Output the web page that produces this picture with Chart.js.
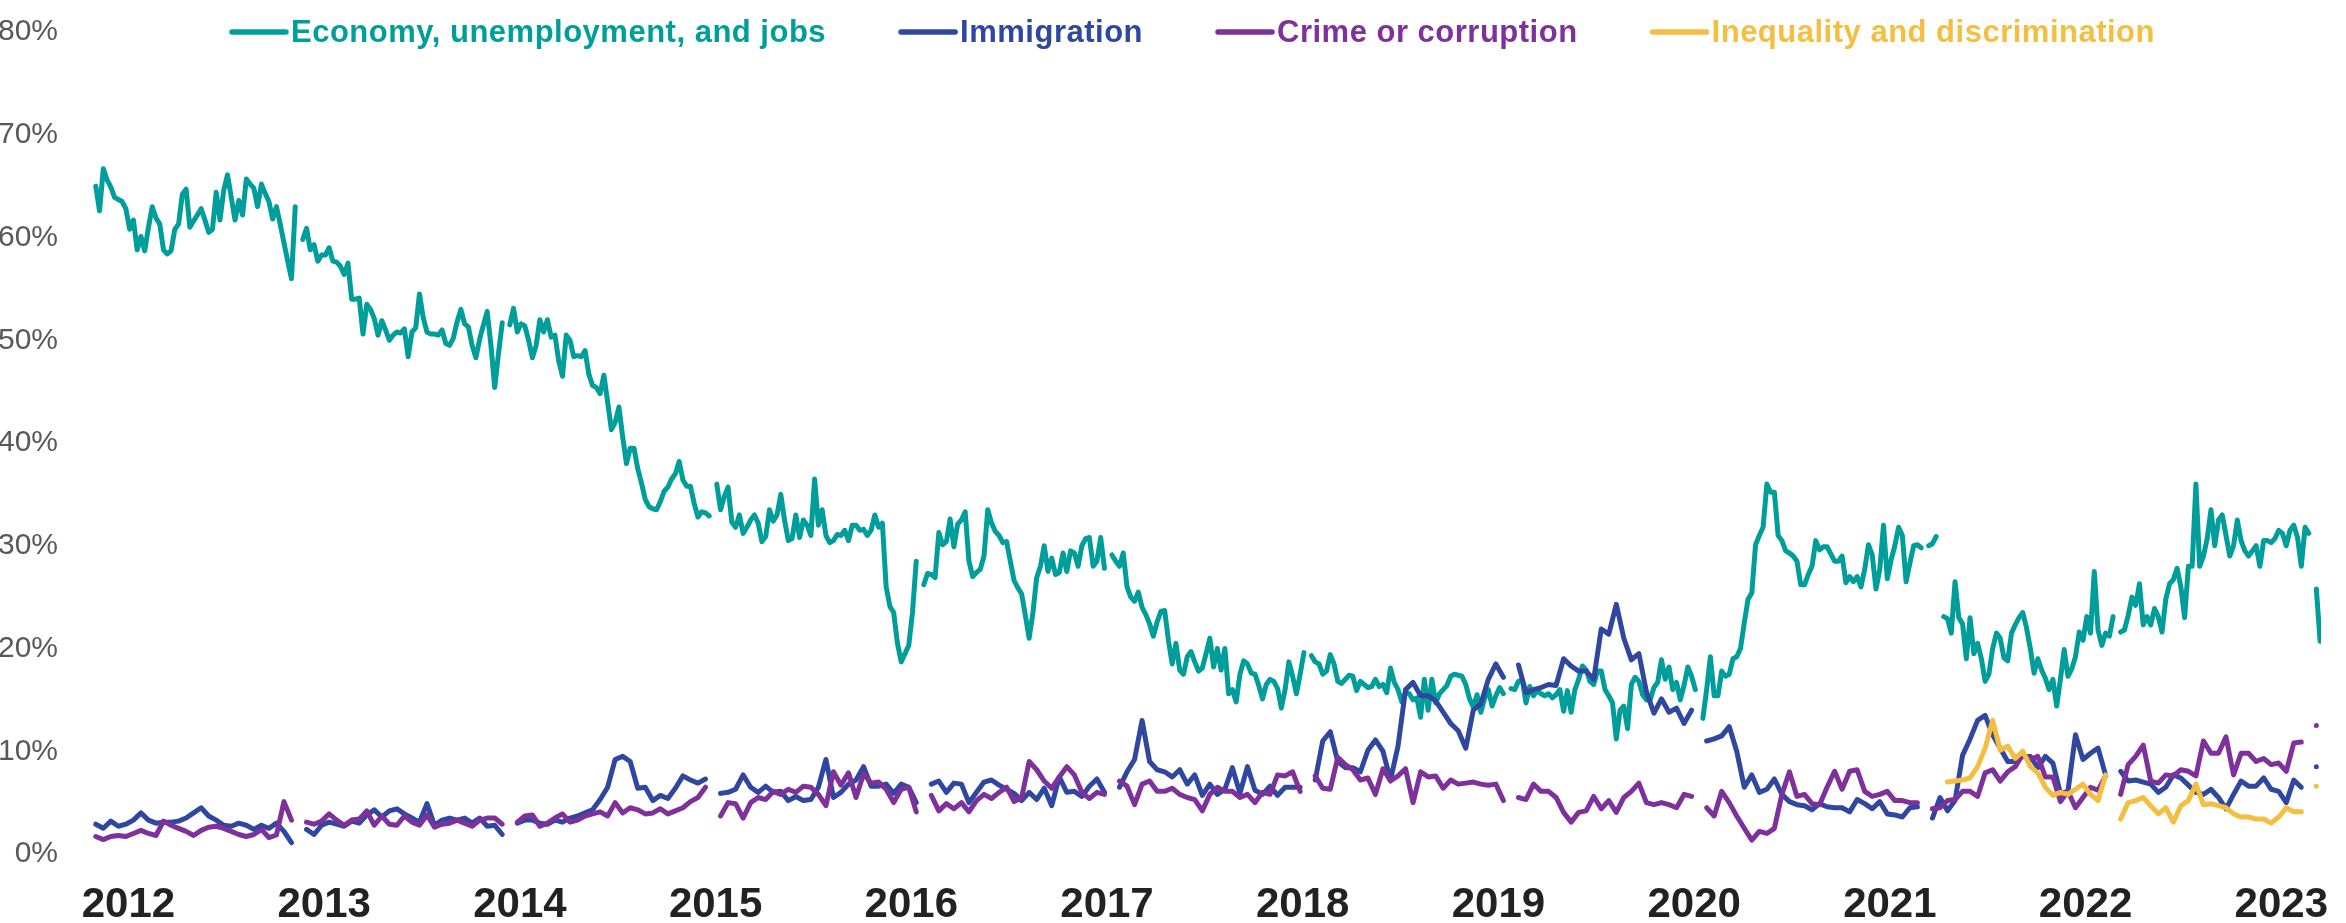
<!doctype html>
<html>
<head>
<meta charset="utf-8">
<title>Most important issues, weekly share</title>
<script src="https://cdn.jsdelivr.net/npm/chart.js@4.4.1/dist/chart.umd.min.js"></script>
<style>
	html, body {
		margin: 0;
		padding: 0;
		background: #fff;
	}
	canvas {
		display: block;
	}
</style>
</head>
<body>
<canvas id="chart" width="2346" height="923"></canvas>
<script>
// first plotted week, as a decimal year (late Oct 2011)
var firstWeek = 2011.833;
var yearTicks = [2012, 2013, 2014, 2015, 2016, 2017, 2018, 2019, 2020, 2021, 2022, 2023];

var seriesNames = ['Economy, unemployment, and jobs', 'Immigration', 'Crime or corruption', 'Inequality and discrimination'];
var seriesColors = ['#009e9a', '#2f479e', '#7e309b', '#f4be41'];

// weekly, % of respondents (null = no reading that week)
var econ = [
	65.0, 62.6, 66.7, 65.6, 64.9, 63.9, 63.7, 63.5, 62.8, 60.8, 61.7, 58.8, 60.1, 58.7, 61.0, 63.0, 61.9, 61.3, 58.8, 58.4,
	58.7, 60.8, 61.3, 64.2, 64.7, 61.0, 61.6, 62.2, 62.8, 61.7, 60.5, 60.8, 64.4, 61.7, 64.6, 66.1, 63.9, 61.7, 63.6, 62.2,
	65.7, 65.2, 64.8, 63.0, 65.2, 64.3, 63.5, 61.8, 63.0, 61.3, 59.5, 57.7, 56.0, 63.0, null,
	59.8, 60.9, 58.8, 59.3, 57.7, 58.3, 58.3, 59.0, 57.7, 57.6, 57.2, 56.4, 57.5, 54.0, 54.0, 54.1, 50.6, 53.5, 53.0, 52.1,
	50.5, 51.9, 51.0, 50.0, 50.5, 50.8, 50.7, 51.1, 48.4,
	50.8, 51.2, 54.5, 52.2, 50.8, 50.6, 50.6, 50.5, 51.0, 49.7, 49.5, 50.2, 51.8, 53.0, 51.6, 51.3, 49.5, 48.3, 50.1, 51.5,
	52.8, 49.5, 45.4, 48.7, 51.7, null,
	51.5, 53.1, 50.8, 51.6, 51.4, 50.0, 48.3, 49.5, 52.0, 50.8, 52.0, 50.3, 50.5, 48.0, 46.5, 50.5, 50.0, 48.4, 48.5, 48.4,
	49.0, 46.7, 45.6, 45.4, 44.8, 46.6, 44.0, 41.3, 42.0, 43.5, 40.6, 38.0, 39.5, 39.5, 37.5, 36.1, 34.5, 33.8, 33.6, 33.5,
	34.3, 35.3, 35.7, 36.5, 37.0, 38.2, 36.4, 35.8, 35.8, 34.1, 32.8, 33.3, 33.2, 32.9, null,
	36.0, 33.5, 34.8, 35.7, 32.3, 31.8, 33.0, 31.2, 31.8, 32.5, 33.0, 32.2, 30.4, 30.9, 33.5, 32.4, 33.0, 35.0, 32.5, 30.5,
	30.7, 33.0, 30.8, 32.5, 32.0, 31.0, 36.5, 32.0, 33.5, 31.0, 30.3, 30.5, 31.1, 31.0, 31.5, 30.5, 32.0, 32.0, 31.5, 31.6,
	31.0, 31.5, 33.0, 31.8, 32.2, 26.0, 24.1, 23.5, 20.5, 18.7, 19.5, 20.3, 23.5, 28.5, null,
	26.2, 27.3, 27.2, 26.9, 31.3, 30.1, 30.4, 32.6, 29.9, 32.1, 32.5, 33.3, 28.5, 27.0, 27.4, 27.7, 29.0, 33.5, 32.2, 31.4,
	31.0, 30.3, 30.4, 28.5, 26.6, 25.9, 25.3, 23.2, 21.0, 23.5, 26.9, 28.0, 30.0, 27.5, 28.8, 27.2, 27.4, 29.3, 27.5, 29.5,
	29.3, 28.0, 30.0, 30.7, 30.8, 28.0, 28.5, 30.8, 27.8, null,
	29.1, 28.5, 28.0, 29.3, 26.0, 25.0, 24.6, 25.5, 24.0, 23.3, 22.4, 21.2, 22.6, 23.6, 23.7, 20.8, 18.5, 20.5, 17.9, 17.5,
	19.2, 19.7, 18.7, 17.8, 18.1, 19.5, 21.0, 18.2, 20.0, 17.9, 20.0, 15.6, 16.0, 14.8, 17.5, 18.8, 18.5, 17.6, 17.5, 16.4,
	15.1, 16.5, 17.0, 16.8, 16.1, 14.2, 16.0, 18.7, 17.3, 15.6, 17.5, 19.6, null,
	19.3, 18.7, 18.5, 17.5, 17.8, 19.4, 18.5, 16.8, 16.6, 17.0, 17.4, 17.3, 15.9, 16.8, 16.5, 16.2, 16.3, 17.0, 16.3, 16.5,
	15.7, 18.1, 16.7, 16.0, 14.8, 15.7, 15.6, 15.0, 15.2, 13.3, 17.0, 14.0, 17.0, 14.7, 15.6, 16.0, 16.4, 17.3, 17.5, 17.4,
	17.3, 16.5, 15.1, 14.3, 15.5, 13.8, 15.1, 16.0, 14.4, 15.4, 16.2, 15.6, null,
	16.1, 16.0, 16.8, 17.0, 14.7, 16.3, 15.4, 15.9, 15.6, 15.4, 15.6, 15.2, 15.5, 16.0, 13.9, 15.9, 13.8, 16.0, 17.0, 18.3,
	17.9, 16.8, 16.5, 17.8, 17.8, 16.0, 15.4, 14.7, 11.2, 14.0, 14.4, 12.2, 16.5, 17.2, 16.8, 15.5, 15.0, 15.0, 16.2, 16.7,
	18.9, 17.0, 18.2, 16.0, 16.7, 15.0, 16.4, 18.2, 17.3, 16.0, null,
	13.2, 16.0, 19.2, 15.4, 15.4, 17.8, 17.3, 17.5, 19.0, 19.2, 20.0, 22.5, 24.8, 25.4, 30.1, 31.0, 31.8, 36.0, 35.2, 35.2,
	31.0, 30.5, 29.5, 29.3, 29.0, 28.5, 26.2, 26.2, 27.2, 28.0, 30.5, 29.6, 29.9, 29.9, 29.2, 28.5, 28.5, 29.0, 26.4, 27.0,
	26.5, 27.0, 26.0, 27.7, 30.1, 29.1, 25.8, 27.7, 32.0, 26.8, 28.6, 30.0, 31.8, 31.0, 26.5, 28.3, 30.0, 30.1, 29.8, null,
	30.0, 30.2, 30.9, null,
	23.1, 22.9, 21.5, 26.5, 23.0, 22.4, 19.0, 23.0, 19.5, 20.5, 19.0, 16.8, 17.5, 20.0, 21.5, 21.0, 19.1, 18.8, 21.5, 22.3,
	23.0, 23.5, 22.0, 20.0, 17.6, 19.0, 17.9, 17.1, 16.0, 17.0, 14.4, 17.0, 19.9, 17.3, 18.0, 19.2, 21.6, 20.8, 23.1, 21.5,
	27.5, 21.8, 20.3, 21.5, 21.2, 23.1, null,
	21.6, 21.8, 23.2, 25.0, 24.2, 26.3, 22.3, 23.1, 22.3, 23.9, 23.1, 21.6, 24.8, 26.3, 26.7, 27.8, 26.0, 23.0, 28.0, 28.0,
	36.0, 28.0, 29.0, 30.7, 33.5, 30.0, 32.5, 33.0, 31.0, 29.0, 30.0, 32.5, 30.5, 29.5, 29.0, 29.5, 30.0, 28.0, 30.5, 30.5,
	30.3, 30.7, 31.5, 31.2, 30.0, 31.5, 32.0, 30.8, 28.0, 31.8, 31.2, null,
	25.8, 20.7
];

// every second week from firstWeek
var immig = [
	2.9, 2.5, 3.2, 2.7, 2.9, 3.3, 4.0, 3.3, 3.0, 3.1, 3.1, 3.2, 3.5, 4.0, 4.5, 3.7, 3.3, 2.8, 2.7, 3.0,
	2.8, 2.4, 2.8, 2.5, 3.0, 2.2, 1.1, null, 2.4, 1.9, 2.8, 3.1, 2.9, 2.7, 3.2, 3.0, 3.8, 4.3, 3.6, 4.2,
	4.4, 3.9, 3.5, 3.1, 4.9, 2.8, 3.3, 3.5, 3.3, 3.5, 3.0, 3.5, 2.7, 2.8, 1.9, null, 3.0, 3.3, 3.3, 3.0,
	2.9, 3.3, 3.1, 3.5, 3.7, 4.0, 4.3, 5.3, 6.5, 9.2, 9.5, 9.0, 6.4, 6.5, 5.2, 5.7, 5.4, 6.4, 7.6, 7.2,
	6.9, 7.3, null, 5.9, 6.0, 6.3, 7.7, 6.5, 6.0, 6.6, 6.0, 6.1, 5.2, 5.6, 5.2, 5.3, 6.5, 9.2, 5.5, 6.0,
	6.8, 7.2, 8.5, 6.6, 6.6, 6.8, 5.9, 6.8, 6.5, 5.0, null, 6.8, 7.1, 6.0, 6.9, 6.8, 5.0, 6.0, 7.0, 7.2,
	6.7, 6.3, 5.9, 5.2, 6.0, 5.3, 6.4, 4.7, 7.5, 6.0, 6.1, 5.6, 6.6, 7.3, 6.0, null, 6.5, 8.0, 9.2, 13.0,
	9.0, 8.2, 8.0, 7.5, 8.2, 6.8, 7.7, 5.7, 6.8, 5.8, 6.3, 8.4, 5.9, 8.5, 6.2, 5.8, 6.6, 5.7, 6.5, 6.5,
	6.5, null, 7.2, 11.0, 11.9, 9.0, 8.4, 8.4, 8.0, 10.1, 11.1, 10.0, 7.2, 10.5, 16.0, 16.7, 15.4, 15.4, 14.9, 13.8,
	12.7, 12.0, 10.3, 14.0, 14.6, 17.0, 18.5, 17.2, null, 18.4, 15.7, 16.0, 16.2, 16.5, 16.4, 19.0, 18.3, 17.8, 17.8, 17.0,
	21.9, 21.4, 24.3, 21.0, 18.9, 19.5, 15.8, 13.7, 15.1, 13.8, 14.2, 12.7, 14.0, null, 11.0, 11.2, 11.5, 12.4, 10.0, 6.5,
	7.7, 6.0, 6.3, 7.3, 5.8, 5.1, 4.8, 4.7, 4.3, 4.9, 4.6, 4.5, 4.5, 4.1, 5.3, 4.9, 4.4, 5.1, 3.9, 3.8,
	3.6, 4.5, 4.6, null, 3.5, 5.5, 4.2, 5.2, 9.6, 11.2, 13.0, 13.5, 11.6, 10.3, 9.0, 9.0, 9.5, 9.5, 8.4, 9.5,
	8.85, 5.9, 6.1, 11.6, 9.2, 9.8, 10.3, 7.7, null, 8.05, 7.1, 7.2, 7.0, 6.8, 6.0, 6.5, 7.7, 7.4, 6.7, 6.0,
	5.8, 6.3, 5.5, 4.4, 5.8, 7.1, 6.6, 6.6, 7.4, 6.3, 6.1, 5.0, 7.2, 6.5, null, 8.5
];

var crime = [
	1.7, 1.4, 1.7, 1.8, 1.7, 2.0, 2.3, 2.0, 1.8, 3.2, 2.8, 2.5, 2.2, 1.8, 2.3, 2.6, 2.7, 2.5, 2.2, 1.9,
	1.7, 1.9, 2.4, 1.6, 1.85, 5.1, 3.3, null, 3.1, 2.9, 3.2, 3.9, 3.3, 2.8, 3.3, 3.4, 4.2, 2.8, 3.7, 2.9,
	2.8, 3.7, 3.1, 2.8, 3.8, 2.6, 2.9, 3.0, 3.3, 3.0, 2.7, 3.3, 3.5, 3.5, 2.9, null, 3.1, 3.7, 3.8, 2.7,
	3.0, 3.5, 3.9, 3.1, 3.3, 3.7, 3.9, 4.1, 3.7, 5.0, 4.0, 4.5, 4.3, 3.9, 4.0, 4.4, 3.9, 4.2, 4.5, 5.1,
	5.5, 6.5, null, 3.7, 5.0, 4.9, 3.5, 5.0, 5.5, 5.3, 6.1, 5.8, 6.3, 6.0, 6.6, 6.5, 5.8, 4.7, 8.0, 6.7,
	7.9, 5.5, 7.8, 6.9, 7.0, 6.3, 5.0, 6.3, 6.5, 4.1, null, 5.7, 4.2, 4.9, 4.4, 5.0, 4.1, 5.2, 5.8, 5.4,
	6.0, 6.5, 5.1, 5.5, 9.0, 8.2, 7.1, 6.4, 7.5, 8.5, 7.7, 6.0, 5.4, 6.0, 5.8, null, 7.1, 6.6, 4.8, 6.8,
	7.1, 6.1, 6.1, 6.4, 5.8, 5.5, 5.3, 4.2, 5.8, 6.5, 6.1, 6.1, 5.5, 5.8, 5.0, 6.0, 5.8, 7.7, 7.6, 8.0,
	6.1, null, 7.6, 6.4, 6.3, 9.4, 8.7, 8.2, 7.2, 7.4, 5.8, 8.3, 7.1, 7.6, 8.3, 5.0, 8.0, 7.5, 7.6, 6.4,
	7.2, 6.8, 6.9, 7.0, 6.8, 6.7, 6.8, 5.2, null, 5.5, 5.3, 6.8, 6.1, 6.1, 5.5, 4.05, 3.1, 4.05, 4.2, 5.6,
	4.4, 5.2, 4.05, 5.5, 6.1, 6.9, 5.0, 4.8, 5.0, 4.8, 4.5, 5.8, 5.6, null, 4.5, 3.7, 6.1, 5.0, 3.7, 2.5,
	1.35, 2.2, 2.0, 2.5, 5.8, 8.0, 5.6, 5.8, 4.9, 4.8, 6.5, 8.05, 6.3, 8.05, 8.2, 6.1, 5.6, 5.8, 6.1, 5.2,
	5.2, 5.0, 5.0, null, 4.4, 4.5, 5.2, 5.3, 6.1, 6.1, 5.6, 7.9, 8.2, 7.1, 8.0, 8.5, 9.7, 9.2, 9.5, 7.5,
	7.5, 5.1, 6.1, 4.5, 5.5, 6.5, 6.2, 7.6, null, 5.8, 8.7, 9.5, 10.6, 7.1, 6.9, 7.7, 7.6, 8.2, 8.05, 7.6,
	11.0, 9.8, 9.8, 11.4, 7.7, 9.8, 9.8, 9.0, 9.3, 8.7, 8.85, 8.05, 10.8, 10.9, null, 12.5
];

// every second week, asked from late April 2021
var inequalFirstWeek = firstWeek + 492 / 52;
var inequal = [
	7.0, 7.1, 7.2, 7.4, 8.5, 10.3, 13.0, 10.1, 10.5, 9.3, 10.0, 8.5, 7.9, 6.5, 5.7, 6.0, 5.8, 6.3, 6.8, 5.8,
	5.2, 7.7, null, 3.4, 5.0, 5.2, 5.5, 4.7, 3.9, 4.5, 3.1, 4.7, 5.2, 6.8, 4.8, 4.9, 4.7, 4.5, 3.9, 3.6,
	3.6, 3.4, 3.4, 3.0, 3.6, 4.5, 4.1, 4.1, null, 6.6
];

function toPoints(values, start, stepWeeks) {
	return values.map(function(v, i) {
		return {x: start + i * stepWeeks / 52, y: v};
	});
}

function makeDataset(k, points, order) {
	return {
		label: seriesNames[k],
		data: points,
		borderColor: seriesColors[k],
		backgroundColor: seriesColors[k],
		borderWidth: 5,
		pointRadius: 0,
		tension: 0,
		spanGaps: false,
		borderJoinStyle: 'round',
		borderCapStyle: 'round',
		fill: false,
		order: order
	};
}

// legend sits inside the plot, along the top
var topLegend = {
	id: 'topLegend',
	afterDraw: function(chart) {
		var ctx = chart.ctx;
		var x = 232, y = 32;
		ctx.save();
		ctx.font = 'bold 31px "Liberation Sans", Arial, sans-serif';
		ctx.letterSpacing = '0.5px';
		ctx.textBaseline = 'middle';
		ctx.textAlign = 'left';
		chart.data.datasets.forEach(function(ds) {
			ctx.strokeStyle = ds.borderColor;
			ctx.lineWidth = 5.5;
			ctx.lineCap = 'round';
			ctx.beginPath();
			ctx.moveTo(x, y);
			ctx.lineTo(x + 54, y);
			ctx.stroke();
			ctx.fillStyle = ds.borderColor;
			ctx.fillText(ds.label, x + 59, y + 1);
			x += 59 + ctx.measureText(ds.label).width + 75;
		});
		ctx.restore();
	}
};

window.onload = function() {
	var ctx = document.getElementById('chart').getContext('2d');
	new Chart(ctx, {
		type: 'line',
		data: {
			datasets: [
				makeDataset(0, toPoints(econ, firstWeek, 1), 4),
				makeDataset(1, toPoints(immig, firstWeek, 2), 3),
				makeDataset(2, toPoints(crime, firstWeek, 2), 2),
				makeDataset(3, toPoints(inequal, inequalFirstWeek, 2), 1)
			]
		},
		options: {
			responsive: false,
			animation: false,
			devicePixelRatio: 1,
			layout: {
				autoPadding: false,
				padding: {top: 19, right: 0, bottom: 0, left: 0}
			},
			plugins: {
				legend: {display: false},
				tooltip: {enabled: false}
			},
			scales: {
				x: {
					type: 'linear',
					min: 2011.7524,
					max: 2023.2026,
					grid: {display: false},
					border: {display: false},
					afterBuildTicks: function(scale) {
						scale.ticks = yearTicks.map(function(v) { return {value: v}; });
					},
					afterFit: function(scale) {
						scale.height = 69;
					},
					ticks: {
						autoSkip: false,
						maxRotation: 0,
						padding: 18,
						color: '#222222',
						font: {family: '"Liberation Sans", Arial, sans-serif', size: 42, weight: 'bold'},
						callback: function(v) { return String(v); }
					}
				},
				y: {
					min: 0,
					max: 80,
					grid: {display: false},
					border: {display: false},
					afterFit: function(scale) {
						scale.width = 80;
					},
					ticks: {
						stepSize: 10,
						padding: 14,
						color: '#595959',
						font: {family: '"Liberation Sans", Arial, sans-serif', size: 30},
						callback: function(v) { return v + '%'; }
					}
				}
			}
		},
		plugins: [topLegend]
	});
};
</script>
</body>
</html>
